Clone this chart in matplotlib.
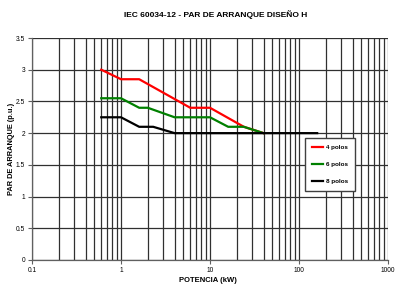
import matplotlib
matplotlib.use("Agg")
import matplotlib.pyplot as plt
from matplotlib.ticker import LogLocator, FixedLocator, NullFormatter, FixedFormatter

plt.rcParams['font.family'] = ['Liberation Sans', 'DejaVu Sans']

title = "IEC 60034-12 - PAR DE ARRANQUE DISEÑO H"
xlabel = "POTENCIA (kW)"
ylabel = "PAR DE ARRANQUE (p.u.)"

p4_kw = [0.6, 1.0, 1.6, 6.0, 10.0, 24.0, 40.0]
p4_tq = [3.0, 2.85, 2.85, 2.4, 2.4, 2.1, 2.0]
p6_kw = [0.6, 1.0, 1.6, 2.0, 4.0, 10.0, 16.0, 24.0, 40.0]
p6_tq = [2.55, 2.55, 2.4, 2.4, 2.25, 2.25, 2.1, 2.1, 2.0]
p8_kw = [0.6, 1.0, 1.6, 2.3, 4.0, 160.0]
p8_tq = [2.25, 2.25, 2.1, 2.1, 2.0, 2.0]

series = [("4 polos", p4_kw, p4_tq, "#ff0000"),
          ("6 polos", p6_kw, p6_tq, "#008000"),
          ("8 polos", p8_kw, p8_tq, "#000000")]

xticks = [0.1, 1, 10, 100, 1000]
xtick_labels = ["0.1", "1", "10", "100", "1000"]
yticks = [0, 0.5, 1, 1.5, 2, 2.5, 3, 3.5]
ytick_labels = ["0", "0.5", "1", "1.5", "2", "2.5", "3", "3.5"]

fig = plt.figure(figsize=(4.12, 2.88), dpi=100)
ax = fig.add_axes([32/412, 1-260/288, (388-32)/412, (260-38)/288])
ax.set_xscale('log')
ax.set_xlim(0.1, 1000)
ax.set_ylim(0, 3.5)

ax.xaxis.set_major_locator(FixedLocator(xticks))
ax.xaxis.set_major_formatter(FixedFormatter(xtick_labels))
ax.xaxis.set_minor_locator(LogLocator(base=10, subs=range(2, 10)))
ax.xaxis.set_minor_formatter(NullFormatter())
ax.yaxis.set_major_locator(FixedLocator(yticks))
ax.yaxis.set_major_formatter(FixedFormatter(ytick_labels))

ax.grid(True, which='major', color='#303030', linewidth=0.9)
ax.grid(True, which='minor', axis='x', color='#303030', linewidth=0.9)
ax.set_axisbelow(True)

for s in ['top', 'right']:
    ax.spines[s].set_visible(False)
for s in ['left', 'bottom']:
    ax.spines[s].set_color('#606060')
    ax.spines[s].set_linewidth(0.9)

ax.tick_params(axis='both', which='major', labelsize=4.8, length=3, color='#606060', pad=2)
ax.tick_params(axis='x', which='minor', length=0)

for name, xs, ys, c in series:
    ax.plot(xs, ys, color=c, linewidth=1.6, label=name)

leg = fig.legend(handles=ax.get_lines(), labels=[s[0] for s in series],
                 loc='upper left', bbox_to_anchor=(305/412, 1-138/288),
                 borderaxespad=0,
                 frameon=True, fancybox=False, edgecolor='#404040',
                 prop={'weight': 'bold', 'size': 4.5}, handlelength=1.7, labelspacing=1.85,
                 borderpad=1.1, handletextpad=0.6, facecolor='white', framealpha=1)
leg.get_frame().set_linewidth(1.0)

fig.text(216/412, 1-15/288, title, ha='center', va='center', fontsize=6, fontweight='bold')
fig.text(208/412, 1-280/288, xlabel, ha='center', va='center', fontsize=5.5, fontweight='bold')
fig.text(12/412, 1-149/288, ylabel, ha='center', va='center', fontsize=5.3, fontweight='bold', rotation=90)

fig.savefig("out.png", dpi=100)
